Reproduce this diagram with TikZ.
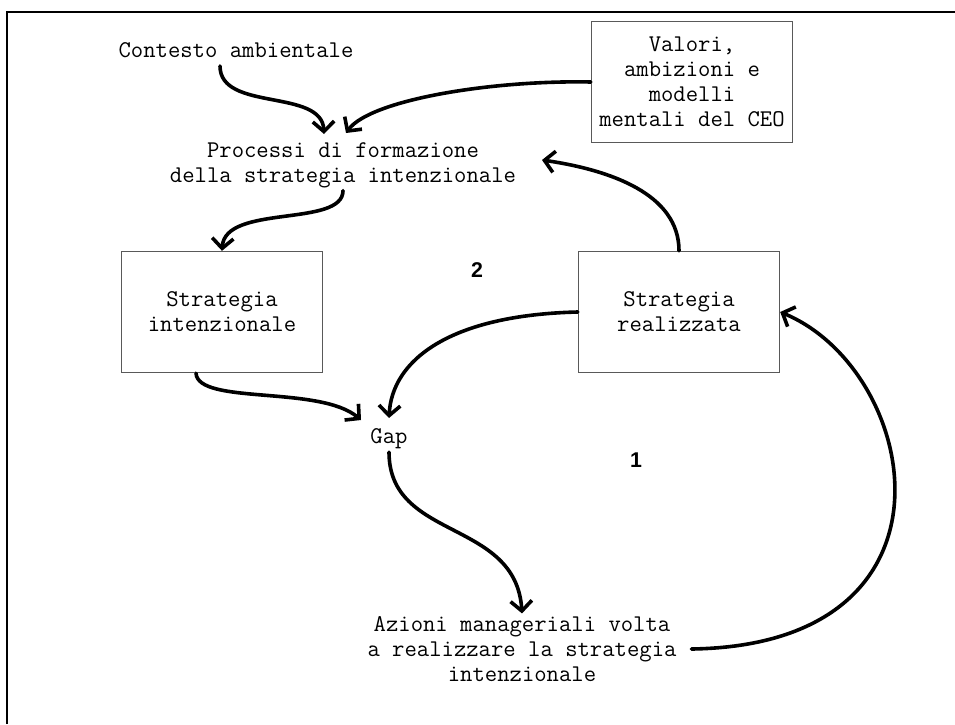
\documentclass[tikz,border=0pt]{standalone}
\usepackage{fontspec}
\setsansfont{Liberation Sans}
\usetikzlibrary{arrows.meta,calc}

\begin{document}
\begin{tikzpicture}
		[   x=0.75pt,y=-0.75pt,
		    txt/.style={font=\ttfamily\fontsize{18}{18.8}\selectfont,align=center,inner sep=2pt},
		    box/.style={txt,draw=black!65,line width=0.8pt,minimum width=151pt,minimum height=91pt},
		    num/.style={font=\sffamily\bfseries\fontsize{16}{19}\selectfont},
		]
		\tikzset{normal arrow/.style={draw,line width=2.7pt,line cap=round,-{Straight Barb[length=7.5pt,width=16pt]}}}
		\useasboundingbox (0,0) rectangle (955,724);
		\draw[line width=1.5pt] (7,724) -- (7,12) -- (955,12);
		
		\node[txt] (ctx) at (236,50) {Contesto ambientale};
		\node[box] (val) at (692,82) {Valori,\\ambizioni e\\modelli\\mentali del CEO};
		\node[txt] (proc) at (343,165) {Processi di formazione\\della strategia intenzionale};
		
		\node[box] (si) at (222,312) {Strategia\\intenzionale};
		\node[box] (sr) at (679,312) {Strategia\\realizzata};
		
		\node[txt] (gap) at (389,439) {Gap};
		\node[txt] (az) at (522,649) {Azioni manageriali volta\\a realizzare la strategia\\intenzionale};
		
		\node[num] (n-2) at (477,270) {2};
		\node[num] (n-1) at (636,460) {1};
		
		
		\path[normal arrow] ($(ctx.center)+(-16,16)$) .. controls +(0,46) and +(-2,-46) .. ($(proc.center)+(-19,-31)$);
		\path[normal arrow] (val.west) .. controls +(-100,-2) and +(24,-33) .. ($(proc.center)+(3,-32)$);
		\path[normal arrow] (sr.north) .. controls +(0,-57) and +(68,10) .. ($(proc.center)+(199,-5)$);
		
		\path[normal arrow] (proc.south) .. controls +(0,37) and +(3,-47) .. (si.north);
		\path[normal arrow] ($(si.south)+(-26,0)$) .. controls +(2,32) and +(-41,-35) .. ($(gap.center)+(-28,-19)$);
		\path[normal arrow] (sr.west) .. controls +(-128,3) and +(3,-58) .. ($(gap.center)+(0,-21)$);
		
		\path[normal arrow] (gap.south) .. controls +(0,89) and +(-6,-95) .. (az.north);
		\path[normal arrow] ($(az.east)+(12,0)$) .. controls +(282,-4) and +(140,58) .. (sr.east);
		
		\end{tikzpicture}
\end{document}
